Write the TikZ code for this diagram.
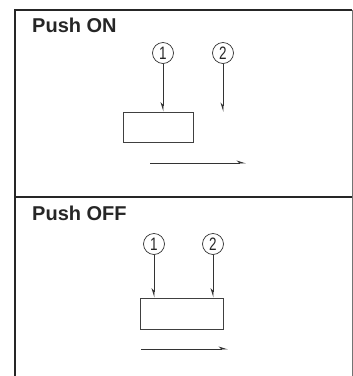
\documentclass[tikz,border=0pt]{standalone}
\usepackage{fontspec}
\setmainfont{Liberation Sans}
\usetikzlibrary{arrows.meta}
\begin{document}
\begin{tikzpicture}[x=1pt,y=-1pt,
  frame/.style={line width=2pt,draw=black!85},
  thinframe/.style={line width=1pt,draw=black!55},
  title/.style={anchor=base west,inner sep=0pt,font=\bfseries\fontsize{20}{20}\selectfont,text=black!85},
  num/.style={circle,draw=black!80,line width=0.7pt,minimum size=21pt,inner sep=0pt,font=\fontsize{18}{18}\selectfont,text=black!85},
  part/.style={draw=black!75,line width=0.9pt,inner sep=0pt},
  harp/.style={draw=black!80,line width=0.9pt,-{Stealth[harpoon,swap,length=8pt,width=5pt]}},
  harps/.style={draw=black!80,line width=0.9pt,-{Stealth[harpoon,length=8pt,width=5pt]}}]
\useasboundingbox (0,0) rectangle (353,376);
\fill[white] (0,0) rectangle (353,376);
% frame
\draw[frame] (15,376) -- (15,10) -- (352,10);
\draw[thinframe] (352,10) -- (352,376);
\draw[frame] (15,196.5) -- (352,196.5);
% Push ON
\node[title] (t1) at (32,32) {Push ON};
\node[num] (a1) at (163,53) {\scalebox{0.75}[1]{1}};
\node[num] (a2) at (223,53) {\scalebox{0.75}[1]{2}};
\node[part,minimum width=70pt,minimum height=30pt] (b1) at (158,127) {};
\coordinate (e2) at (223,112);
\coordinate (h1s) at (150,163);
\coordinate (h1e) at (246,163);
\draw[harp] (a1) -- (a1 |- b1.north);
\draw[harp] (a2) -- (e2);
\draw[harps] (h1s) -- (h1e);
% Push OFF
\node[title] (t2) at (32,220) {Push OFF};
\node[num] (c1) at (154,244) {\scalebox{0.75}[1]{1}};
\node[num] (c2) at (213,244) {\scalebox{0.75}[1]{2}};
\node[part,minimum width=83pt,minimum height=31pt] (b2) at (181.5,313.5) {};
\coordinate (h2s) at (141,349);
\coordinate (h2e) at (228,349);
\draw[harp] (c1) -- (c1 |- b2.north);
\draw[harp] (c2) -- (c2 |- b2.north);
\draw[harps] (h2s) -- (h2e);
\end{tikzpicture}
\end{document}
